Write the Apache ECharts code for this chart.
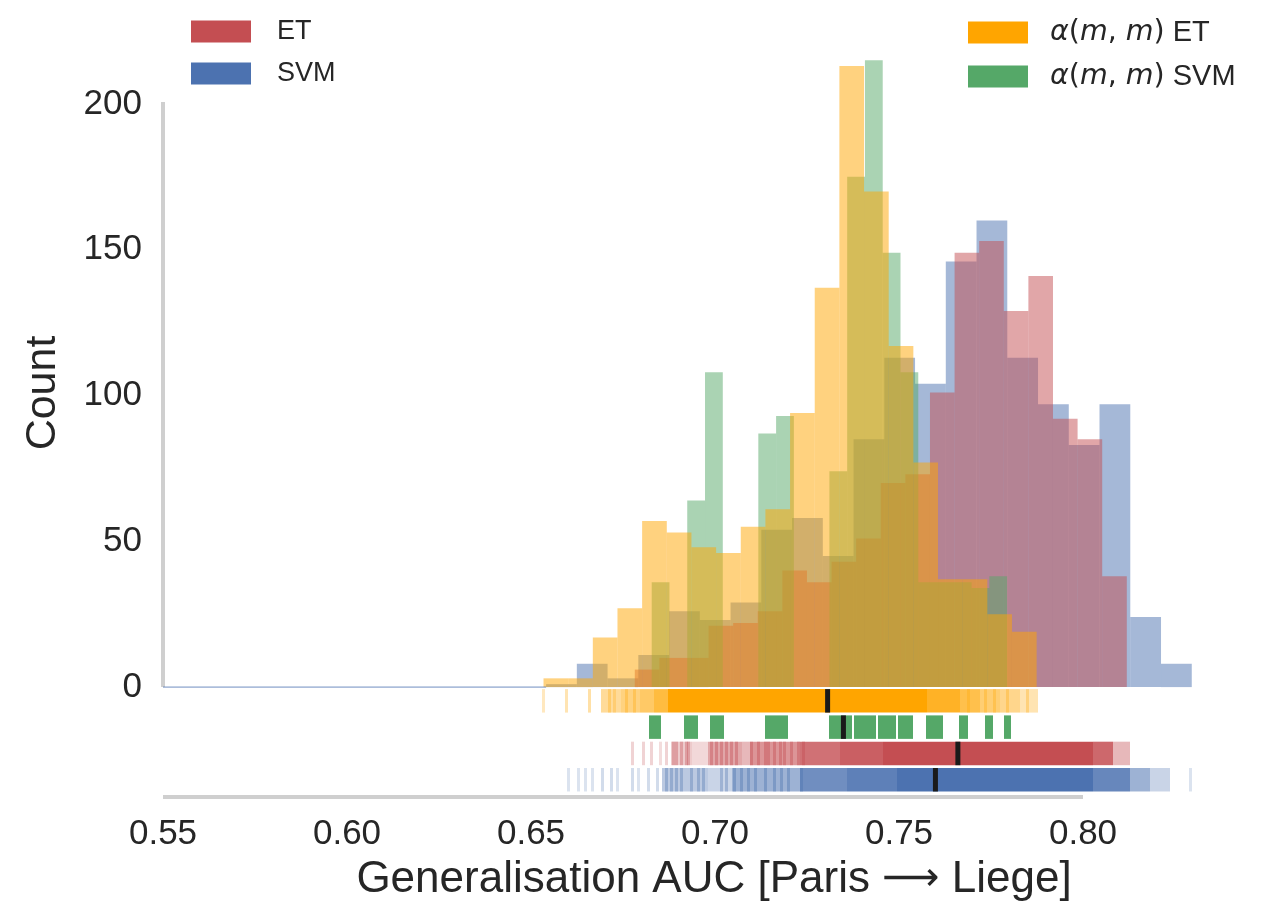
<!DOCTYPE html>
<html>
<head>
<meta charset="utf-8">
<script src="https://cdn.jsdelivr.net/npm/echarts@6/dist/echarts.min.js"></script>
<style>
  html, body { margin: 0; padding: 0; background: #ffffff; }
  #chart { width: 1268px; height: 909px; }
</style>
</head>
<body>
<div id="chart"></div>
<script>
// ---- axis ticks ----
const xTicks = [0.55, 0.60, 0.65, 0.70, 0.75, 0.80];
const yTicks = [0, 50, 100, 150, 200];

// ---- histogram bins (AUC) and counts ----
const etBinStart = 0.6782, etBinWidth = 0.006685;
const etCounts = [6, 10, 10, 21, 22, 26, 40, 36, 43, 51, 70, 73, 101, 149, 153, 129, 141, 92, 85, 38];

const svmBinStart = 0.6541, svmBinWidth = 0.008355;
const svmCounts = [1, 8, 3, 11, 26, 23, 29, 54, 58, 45, 85, 113, 104, 146, 160, 113, 97, 83, 97, 24, 8];

const alphaEtBinStart = 0.6534, alphaEtBinWidth = 0.0067;
const alphaEtCounts = [3, 3, 17, 27, 57, 53, 48, 46, 55, 61, 94, 137, 213, 170, 117, 77, 37, 37, 25, 19];

const alphaSvmBinStart = 0.6828, alphaSvmBinWidth = 0.004829;
const alphaSvmCounts = [36, 0, 64, 108, 0, 0, 87, 93, 0, 0, 74, 175, 215, 149, 108, 36, 36, 36, 34, 38];

// ---- medians ----
const alphaEtMedian = 0.7306;
const alphaSvmMedian = 0.7349;
const etMedian = 0.7660;
const svmMedian = 0.7599;

// ---- rug spans: [from, to, opacity]; from == to is a single tick ----
const alphaEtRug = [
  [0.6535, 0.6535, 0.25], [0.6596, 0.6596, 0.3], [0.6660, 0.6660, 0.35],
  [0.6690, 0.6745, 0.4], [0.6745, 0.6796, 0.5], [0.6796, 0.6835, 0.6], [0.6835, 0.6872, 0.75],
  [0.6872, 0.7576, 1.0], [0.7576, 0.7666, 0.85],
  [0.7666, 0.7720, 0.7], [0.7720, 0.7774, 0.55], [0.7774, 0.7830, 0.45], [0.7830, 0.7878, 0.3]
];
const alphaEtRugTicks = [
  [0.6712, 0.6712, 0.3], [0.6728, 0.6728, 0.25], [0.6760, 0.6760, 0.3], [0.6781, 0.6781, 0.3],
  [0.7690, 0.7690, 0.3], [0.7735, 0.7735, 0.3], [0.7760, 0.7760, 0.3], [0.7795, 0.7795, 0.3], [0.7850, 0.7850, 0.3]
];
const alphaSvmRug = [
  [0.6821, 0.6853, 1], [0.6916, 0.6954, 1], [0.6986, 0.7024, 1], [0.7136, 0.7198, 1],
  [0.7310, 0.7372, 1], [0.7378, 0.7438, 1], [0.7443, 0.7492, 1], [0.7497, 0.7538, 1],
  [0.7573, 0.7620, 1], [0.7663, 0.7688, 1], [0.7734, 0.7755, 1], [0.7785, 0.7804, 1]
];
const etRug = [
  [0.6776, 0.6776, 0.25], [0.6806, 0.6806, 0.25], [0.6827, 0.6827, 0.25], [0.6852, 0.6852, 0.2],
  [0.6868, 0.6868, 0.25], [0.6880, 0.6938, 0.3], [0.6938, 0.6981, 0.22], [0.6981, 0.7073, 0.5],
  [0.7073, 0.7095, 0.4], [0.7095, 0.7231, 0.6], [0.7231, 0.7340, 0.8], [0.7340, 0.7457, 0.9],
  [0.7457, 0.8027, 1.0], [0.8027, 0.8082, 0.85], [0.8082, 0.8128, 0.4]
];
const etRugTicks = [
  [0.6887, 0.6887, 0.35], [0.6896, 0.6896, 0.35], [0.6910, 0.6910, 0.35], [0.6923, 0.6923, 0.35],
  [0.6929, 0.6929, 0.35], [0.6991, 0.6991, 0.4], [0.7005, 0.7005, 0.4], [0.7018, 0.7018, 0.4],
  [0.7032, 0.7032, 0.4], [0.7045, 0.7045, 0.4], [0.7059, 0.7059, 0.4], [0.7100, 0.7100, 0.4],
  [0.7118, 0.7118, 0.4], [0.7136, 0.7136, 0.4], [0.7145, 0.7145, 0.4], [0.7163, 0.7163, 0.4],
  [0.7177, 0.7177, 0.4], [0.7190, 0.7190, 0.4], [0.7208, 0.7208, 0.4], [0.7226, 0.7226, 0.4],
  [0.7240, 0.7240, 0.4]
];
const svmRug = [
  [0.6601, 0.6601, 0.2], [0.6628, 0.6628, 0.2], [0.6647, 0.6647, 0.2], [0.6666, 0.6666, 0.2],
  [0.6694, 0.6694, 0.25], [0.6720, 0.6720, 0.25], [0.6736, 0.6736, 0.2], [0.6777, 0.6777, 0.25],
  [0.6791, 0.6791, 0.2], [0.6818, 0.6818, 0.25], [0.6845, 0.6845, 0.25],
  [0.6856, 0.6981, 0.38], [0.6981, 0.7046, 0.3], [0.7046, 0.7231, 0.55],
  [0.7231, 0.7360, 0.8], [0.7360, 0.7495, 0.9],
  [0.7495, 0.8027, 1.0], [0.8027, 0.8128, 0.85], [0.8128, 0.8182, 0.55], [0.8182, 0.8236, 0.3],
  [0.8291, 0.8291, 0.2]
];
const svmRugTicks = [
  [0.6869, 0.6869, 0.35], [0.6882, 0.6882, 0.35], [0.6896, 0.6896, 0.35], [0.6910, 0.6910, 0.35],
  [0.6937, 0.6937, 0.35], [0.6955, 0.6955, 0.35], [0.6968, 0.6968, 0.35], [0.7018, 0.7018, 0.35],
  [0.7032, 0.7032, 0.35], [0.7054, 0.7054, 0.4], [0.7073, 0.7073, 0.4], [0.7091, 0.7091, 0.4],
  [0.7109, 0.7109, 0.4], [0.7136, 0.7136, 0.4], [0.7163, 0.7163, 0.4], [0.7181, 0.7181, 0.4],
  [0.7199, 0.7199, 0.4], [0.7236, 0.7236, 0.4]
];

// ---- styling ----
const FONT = "'Liberation Sans', 'DejaVu Sans', Arial, sans-serif";
const MATH_FONT = "'DejaVu Sans', sans-serif";
const TEXT = '#262626';
const SPINE = '#cfcfcf';
const COLORS = { et: '#C44E52', svm: '#4C72B0', aet: '#FFA500', asvm: '#55A868' };
const Y_MIN = -37.7, Y_MAX = 225, X_MIN = 0.55, X_MAX = 0.83;
const RUG_TOP = 2, RUG_STEP = 26.3, RUG_H = 23.5;

function binsOf(start, width, counts) {
  const out = [];
  counts.forEach((c, i) => { if (c > 0) out.push([start + i * width, start + (i + 1) * width, c]); });
  return out;
}

function histSeries(name, color, start, width, counts) {
  return {
    name, type: 'custom', itemStyle: { color },
    encode: { x: [0, 1], y: 2 },
    data: binsOf(start, width, counts),
    renderItem(params, api) {
      const a = api.coord([api.value(0), api.value(2)]);
      const b = api.coord([api.value(1), 0]);
      return {
        type: 'rect',
        shape: { x: a[0], y: a[1], width: b[0] - a[0], height: b[1] - a[1] },
        style: { fill: color, opacity: 0.5 }
      };
    }
  };
}

function rugSeries(name, color, row, spans) {
  return {
    name, type: 'custom', silent: true, clip: false,
    encode: { x: [0, 1], y: 2 },
    data: spans,
    renderItem(params, api) {
      const a = api.coord([api.value(0), 0]);
      const b = api.coord([api.value(1), 0]);
      let x0, x1;
      if (b[0] - a[0] < 1) { x0 = Math.round(a[0] - 1.5); x1 = x0 + 3; }
      else { x0 = Math.round(a[0]); x1 = Math.round(b[0]); }
      return {
        type: 'rect',
        shape: { x: x0, y: a[1] + RUG_TOP + row * RUG_STEP, width: x1 - x0, height: RUG_H },
        style: { fill: color, opacity: api.value(2) }
      };
    }
  };
}

const medianSeries = {
  name: 'median', type: 'custom', silent: true, clip: false,
  encode: { x: 0, y: 1 },
  data: [[alphaEtMedian, 0], [alphaSvmMedian, 1], [etMedian, 2], [svmMedian, 3]],
  renderItem(params, api) {
    const a = api.coord([api.value(0), 0]);
    return {
      type: 'rect',
      shape: { x: a[0] - 2.5, y: a[1] + RUG_TOP + api.value(1) * RUG_STEP, width: 5, height: RUG_H },
      style: { fill: '#1a1a1a' }
    };
  }
};

// trimmed spines spanning first to last tick
const spineSeries = {
  name: 'spines', type: 'custom', silent: true, clip: false,
  data: [[0]],
  renderItem(params, api) {
    const y0 = api.coord([xTicks[0], yTicks[0]]);
    const y1 = api.coord([xTicks[0], yTicks[yTicks.length - 1]]);
    const x0 = api.coord([xTicks[0], Y_MIN]);
    const x1 = api.coord([xTicks[xTicks.length - 1], Y_MIN]);
    return {
      type: 'group',
      children: [
        { type: 'line', shape: { x1: y0[0], y1: y0[1], x2: y1[0], y2: y1[1] - 2 }, style: { stroke: SPINE, lineWidth: 4 } },
        { type: 'line', shape: { x1: x0[0], y1: x0[1], x2: x1[0], y2: x1[1] }, style: { stroke: SPINE, lineWidth: 4 } }
      ]
    };
  }
};

const legendText = {
  fontSize: 27, color: TEXT, fontFamily: FONT,
  rich: {
    i: { fontSize: 28.5, color: TEXT, fontFamily: MATH_FONT, fontStyle: 'italic' },
    r: { fontSize: 28.5, color: TEXT, fontFamily: MATH_FONT },
    t: { fontSize: 29, color: TEXT, fontFamily: FONT }
  }
};
function legendFormatter(name) {
  if (name.startsWith('α')) {
    return '{i|α}{r|(}{i|m}{r|, }{i|m}{r|)}{t| ' + name.split(') ')[1] + '}';
  }
  return name;
}

const chart = echarts.init(document.getElementById('chart'), null, { renderer: 'canvas' });
chart.setOption({
  animation: false,
  backgroundColor: '#ffffff',
  grid: { left: 163, right: 74.6, top: 31.1, bottom: 112, containLabel: false },
  xAxis: {
    type: 'value', min: X_MIN, max: X_MAX,
    axisLine: { show: false }, axisTick: { show: false }, splitLine: { show: false },
    axisLabel: { customValues: xTicks, formatter: v => v.toFixed(2), fontSize: 35, color: TEXT, fontFamily: FONT, margin: 20 }
  },
  yAxis: {
    type: 'value', min: Y_MIN, max: Y_MAX,
    axisLine: { show: false }, axisTick: { show: false }, splitLine: { show: false },
    axisLabel: { customValues: yTicks, formatter: v => String(v), fontSize: 35, color: TEXT, fontFamily: FONT, margin: 21 }
  },
  legend: [
    { data: ['ET', 'SVM'], left: 191, top: 18, orient: 'vertical', icon: 'rect', itemWidth: 60, itemHeight: 22, itemGap: 15,
      selectedMode: false, padding: 0, formatter: legendFormatter, textStyle: Object.assign({ padding: [0, 0, 0, 21] }, legendText) },
    { data: ['α(m, m) ET', 'α(m, m) SVM'], left: 968, top: 18, orient: 'vertical', icon: 'rect', itemWidth: 60, itemHeight: 22, itemGap: 15,
      selectedMode: false, padding: 0, formatter: legendFormatter, textStyle: Object.assign({ padding: [0, 0, 0, 17] }, legendText) }
  ],
  graphic: [
    { type: 'text', x: 43, y: 393, rotation: Math.PI / 2,
      style: { text: 'Count', fontSize: 43, fontFamily: FONT, fill: TEXT, textAlign: 'center', textVerticalAlign: 'middle' } },
    { type: 'text', x: 714, y: 880,
      style: {
        text: '{t|Generalisation AUC [Paris }{a|⟶}{t| Liege]}',
        textAlign: 'center', textVerticalAlign: 'middle',
        rich: {
          t: { fontSize: 44, fontFamily: FONT, fill: TEXT },
          a: { fontSize: 40, fontFamily: MATH_FONT, fill: TEXT }
        }
      } }
  ],
  series: [
    { name: 'SVM baseline', type: 'line', silent: true, symbol: 'none',
      data: [[X_MIN, 0], [svmBinStart, 0]], lineStyle: { color: COLORS.svm, width: 1, opacity: 0.8 } },
    histSeries('SVM', COLORS.svm, svmBinStart, svmBinWidth, svmCounts),
    histSeries('ET', COLORS.et, etBinStart, etBinWidth, etCounts),
    histSeries('α(m, m) SVM', COLORS.asvm, alphaSvmBinStart, alphaSvmBinWidth, alphaSvmCounts),
    histSeries('α(m, m) ET', COLORS.aet, alphaEtBinStart, alphaEtBinWidth, alphaEtCounts),
    rugSeries('α(m, m) ET rug', COLORS.aet, 0, alphaEtRug),
    rugSeries('α(m, m) ET rug ticks', COLORS.aet, 0, alphaEtRugTicks),
    rugSeries('α(m, m) SVM rug', COLORS.asvm, 1, alphaSvmRug),
    rugSeries('ET rug', COLORS.et, 2, etRug),
    rugSeries('ET rug ticks', COLORS.et, 2, etRugTicks),
    rugSeries('SVM rug', COLORS.svm, 3, svmRug),
    rugSeries('SVM rug ticks', COLORS.svm, 3, svmRugTicks),
    medianSeries,
    spineSeries
  ]
});
</script>
</body>
</html>
